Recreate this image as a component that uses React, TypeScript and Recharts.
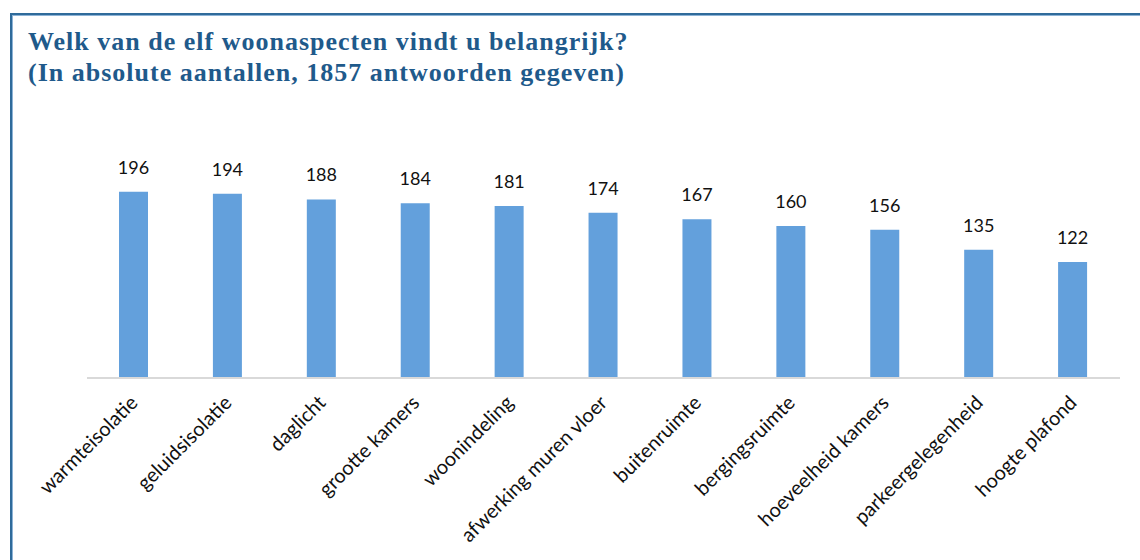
import { BarChart, Bar, XAxis, YAxis, LabelList } from 'recharts';

const aspecten = [
  'warmteisolatie',
  'geluidsisolatie',
  'daglicht',
  'grootte kamers',
  'woonindeling',
  'afwerking muren vloer',
  'buitenruimte',
  'bergingsruimte',
  'hoeveelheid kamers',
  'parkeergelegenheid',
  'hoogte plafond',
];
const aantallen = [196, 194, 188, 184, 181, 174, 167, 160, 156, 135, 122];

const titel = 'Welk van de elf woonaspecten vindt u belangrijk?';
const ondertitel = '(In absolute aantallen, 1857 antwoorden gegeven)';

const data = aspecten.map((naam, i) => ({ naam, aantal: aantallen[i] }));

const AspectTick = (props: any) => {
  const { x, y, payload } = props;
  const tx = x + 5;
  const ty = y + 18;
  return (
    <text
      x={tx}
      y={ty}
      transform={`rotate(-45, ${tx}, ${ty})`}
      textAnchor="end"
      fontFamily="Lato, sans-serif"
      fontSize={20}
      fill="#111"
    >
      {payload.value}
    </text>
  );
};

export default function App() {
  return (
    <div
      style={{
        position: 'absolute',
        left: 0,
        top: 0,
        width: 1140,
        height: 560,
        overflow: 'hidden',
        background: '#fff',
      }}
    >
      <div
        style={{
          position: 'absolute',
          left: 10,
          top: 13,
          width: 1200,
          height: 600,
          borderLeft: '2px solid #2f6b9b',
          borderTop: '2px solid #2f6b9b',
          boxShadow: 'inset 1px 1px 0 #8db3d6',
        }}
      />
      <div
        style={{
          position: 'absolute',
          left: 28,
          top: 26,
          fontFamily: "'Liberation Serif', serif",
          fontWeight: 'bold',
          fontSize: 26,
          letterSpacing: 1,
          lineHeight: '31px',
          color: '#1f5a8b',
        }}
      >
        <div>{titel}</div>
        <div>{ondertitel}</div>
      </div>
      <div style={{ position: 'absolute', left: 0, top: 0 }}>
        <BarChart
          width={1140}
          height={560}
          data={data}
          margin={{ top: 150, right: 20, bottom: 0, left: 87 }}
        >
          <XAxis
            dataKey="naam"
            height={182}
            interval={0}
            tickLine={false}
            axisLine={{ stroke: '#d9d9d9', strokeWidth: 2 }}
            tick={<AspectTick />}
          />
          <YAxis hide domain={[0, 240]} />
          <Bar dataKey="aantal" fill="#63a0dc" barSize={29} isAnimationActive={false}>
            <LabelList
              dataKey="aantal"
              position="top"
              offset={18}
              fontFamily="Lato, sans-serif"
              fontSize={18}
              fill="#111"
            />
          </Bar>
        </BarChart>
      </div>
    </div>
  );
}
